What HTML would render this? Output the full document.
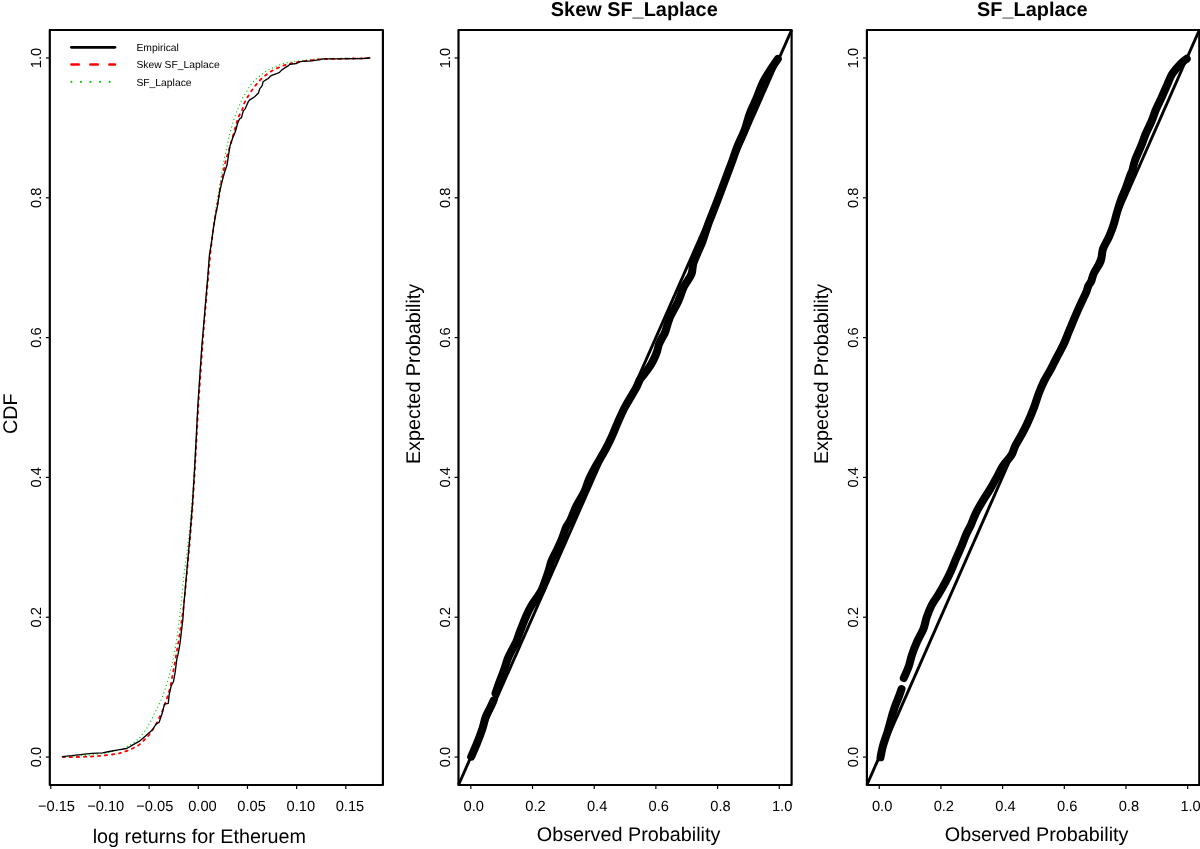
<!DOCTYPE html><html><head><meta charset="utf-8"><style>html,body{margin:0;padding:0;background:#fff;overflow:hidden}svg{display:block;will-change:transform}text{text-rendering:geometricPrecision;font-family:"Liberation Sans",sans-serif;fill:#000}</style></head><body>
<svg width="1200" height="849" viewBox="0 0 1200 849">
<rect width="1200" height="849" fill="#fff"/>
<rect x="49.80" y="30.00" width="333.10" height="755.00" fill="none" stroke="#000" stroke-width="2.2" stroke-linejoin="round"/>
<rect x="458.50" y="30.00" width="333.10" height="755.00" fill="none" stroke="#000" stroke-width="2.2" stroke-linejoin="round"/>
<rect x="866.90" y="30.00" width="332.40" height="755.00" fill="none" stroke="#000" stroke-width="2.2" stroke-linejoin="round"/>
<line x1="45.90" y1="757.04" x2="49.80" y2="757.04" stroke="#000" stroke-width="1.2"/>
<text x="0" y="0" transform="translate(41.30,757.04) rotate(-90)" text-anchor="middle" font-size="14.65" >0.0</text>
<line x1="45.90" y1="617.23" x2="49.80" y2="617.23" stroke="#000" stroke-width="1.2"/>
<text x="0" y="0" transform="translate(41.30,617.23) rotate(-90)" text-anchor="middle" font-size="14.65" >0.2</text>
<line x1="45.90" y1="477.41" x2="49.80" y2="477.41" stroke="#000" stroke-width="1.2"/>
<text x="0" y="0" transform="translate(41.30,477.41) rotate(-90)" text-anchor="middle" font-size="14.65" >0.4</text>
<line x1="45.90" y1="337.60" x2="49.80" y2="337.60" stroke="#000" stroke-width="1.2"/>
<text x="0" y="0" transform="translate(41.30,337.60) rotate(-90)" text-anchor="middle" font-size="14.65" >0.6</text>
<line x1="45.90" y1="197.78" x2="49.80" y2="197.78" stroke="#000" stroke-width="1.2"/>
<text x="0" y="0" transform="translate(41.30,197.78) rotate(-90)" text-anchor="middle" font-size="14.65" >0.8</text>
<line x1="45.90" y1="57.97" x2="49.80" y2="57.97" stroke="#000" stroke-width="1.2"/>
<text x="0" y="0" transform="translate(41.30,57.97) rotate(-90)" text-anchor="middle" font-size="14.65" >1.0</text>
<line x1="454.60" y1="757.04" x2="458.50" y2="757.04" stroke="#000" stroke-width="1.2"/>
<text x="0" y="0" transform="translate(450.00,757.04) rotate(-90)" text-anchor="middle" font-size="14.65" >0.0</text>
<line x1="454.60" y1="617.23" x2="458.50" y2="617.23" stroke="#000" stroke-width="1.2"/>
<text x="0" y="0" transform="translate(450.00,617.23) rotate(-90)" text-anchor="middle" font-size="14.65" >0.2</text>
<line x1="454.60" y1="477.41" x2="458.50" y2="477.41" stroke="#000" stroke-width="1.2"/>
<text x="0" y="0" transform="translate(450.00,477.41) rotate(-90)" text-anchor="middle" font-size="14.65" >0.4</text>
<line x1="454.60" y1="337.60" x2="458.50" y2="337.60" stroke="#000" stroke-width="1.2"/>
<text x="0" y="0" transform="translate(450.00,337.60) rotate(-90)" text-anchor="middle" font-size="14.65" >0.6</text>
<line x1="454.60" y1="197.78" x2="458.50" y2="197.78" stroke="#000" stroke-width="1.2"/>
<text x="0" y="0" transform="translate(450.00,197.78) rotate(-90)" text-anchor="middle" font-size="14.65" >0.8</text>
<line x1="454.60" y1="57.97" x2="458.50" y2="57.97" stroke="#000" stroke-width="1.2"/>
<text x="0" y="0" transform="translate(450.00,57.97) rotate(-90)" text-anchor="middle" font-size="14.65" >1.0</text>
<line x1="863.00" y1="757.04" x2="866.90" y2="757.04" stroke="#000" stroke-width="1.2"/>
<text x="0" y="0" transform="translate(858.40,757.04) rotate(-90)" text-anchor="middle" font-size="14.65" >0.0</text>
<line x1="863.00" y1="617.23" x2="866.90" y2="617.23" stroke="#000" stroke-width="1.2"/>
<text x="0" y="0" transform="translate(858.40,617.23) rotate(-90)" text-anchor="middle" font-size="14.65" >0.2</text>
<line x1="863.00" y1="477.41" x2="866.90" y2="477.41" stroke="#000" stroke-width="1.2"/>
<text x="0" y="0" transform="translate(858.40,477.41) rotate(-90)" text-anchor="middle" font-size="14.65" >0.4</text>
<line x1="863.00" y1="337.60" x2="866.90" y2="337.60" stroke="#000" stroke-width="1.2"/>
<text x="0" y="0" transform="translate(858.40,337.60) rotate(-90)" text-anchor="middle" font-size="14.65" >0.6</text>
<line x1="863.00" y1="197.78" x2="866.90" y2="197.78" stroke="#000" stroke-width="1.2"/>
<text x="0" y="0" transform="translate(858.40,197.78) rotate(-90)" text-anchor="middle" font-size="14.65" >0.8</text>
<line x1="863.00" y1="57.97" x2="866.90" y2="57.97" stroke="#000" stroke-width="1.2"/>
<text x="0" y="0" transform="translate(858.40,57.97) rotate(-90)" text-anchor="middle" font-size="14.65" >1.0</text>
<line x1="50.79" y1="785.00" x2="50.79" y2="788.90" stroke="#000" stroke-width="1.2"/>
<text x="56.49" y="810.9" text-anchor="middle" font-size="14.65" >−0.15</text>
<line x1="99.96" y1="785.00" x2="99.96" y2="788.90" stroke="#000" stroke-width="1.2"/>
<text x="105.66" y="810.9" text-anchor="middle" font-size="14.65" >−0.10</text>
<line x1="149.13" y1="785.00" x2="149.13" y2="788.90" stroke="#000" stroke-width="1.2"/>
<text x="154.83" y="810.9" text-anchor="middle" font-size="14.65" >−0.05</text>
<line x1="198.30" y1="785.00" x2="198.30" y2="788.90" stroke="#000" stroke-width="1.2"/>
<text x="202.45" y="810.9" text-anchor="middle" font-size="14.65" >0.00</text>
<line x1="247.47" y1="785.00" x2="247.47" y2="788.90" stroke="#000" stroke-width="1.2"/>
<text x="251.62" y="810.9" text-anchor="middle" font-size="14.65" >0.05</text>
<line x1="296.64" y1="785.00" x2="296.64" y2="788.90" stroke="#000" stroke-width="1.2"/>
<text x="300.79" y="810.9" text-anchor="middle" font-size="14.65" >0.10</text>
<line x1="345.81" y1="785.00" x2="345.81" y2="788.90" stroke="#000" stroke-width="1.2"/>
<text x="349.96" y="810.9" text-anchor="middle" font-size="14.65" >0.15</text>
<line x1="470.84" y1="785.00" x2="470.84" y2="788.90" stroke="#000" stroke-width="1.2"/>
<text x="473.74" y="810.9" text-anchor="middle" font-size="14.65" >0.0</text>
<line x1="532.52" y1="785.00" x2="532.52" y2="788.90" stroke="#000" stroke-width="1.2"/>
<text x="535.42" y="810.9" text-anchor="middle" font-size="14.65" >0.2</text>
<line x1="594.21" y1="785.00" x2="594.21" y2="788.90" stroke="#000" stroke-width="1.2"/>
<text x="597.11" y="810.9" text-anchor="middle" font-size="14.65" >0.4</text>
<line x1="655.89" y1="785.00" x2="655.89" y2="788.90" stroke="#000" stroke-width="1.2"/>
<text x="658.79" y="810.9" text-anchor="middle" font-size="14.65" >0.6</text>
<line x1="717.58" y1="785.00" x2="717.58" y2="788.90" stroke="#000" stroke-width="1.2"/>
<text x="720.48" y="810.9" text-anchor="middle" font-size="14.65" >0.8</text>
<line x1="779.26" y1="785.00" x2="779.26" y2="788.90" stroke="#000" stroke-width="1.2"/>
<text x="782.16" y="810.9" text-anchor="middle" font-size="14.65" >1.0</text>
<line x1="879.24" y1="785.00" x2="879.24" y2="788.90" stroke="#000" stroke-width="1.2"/>
<text x="882.14" y="810.9" text-anchor="middle" font-size="14.65" >0.0</text>
<line x1="940.92" y1="785.00" x2="940.92" y2="788.90" stroke="#000" stroke-width="1.2"/>
<text x="943.82" y="810.9" text-anchor="middle" font-size="14.65" >0.2</text>
<line x1="1002.61" y1="785.00" x2="1002.61" y2="788.90" stroke="#000" stroke-width="1.2"/>
<text x="1005.51" y="810.9" text-anchor="middle" font-size="14.65" >0.4</text>
<line x1="1064.29" y1="785.00" x2="1064.29" y2="788.90" stroke="#000" stroke-width="1.2"/>
<text x="1067.19" y="810.9" text-anchor="middle" font-size="14.65" >0.6</text>
<line x1="1125.98" y1="785.00" x2="1125.98" y2="788.90" stroke="#000" stroke-width="1.2"/>
<text x="1128.88" y="810.9" text-anchor="middle" font-size="14.65" >0.8</text>
<line x1="1187.66" y1="785.00" x2="1187.66" y2="788.90" stroke="#000" stroke-width="1.2"/>
<text x="1190.56" y="810.9" text-anchor="middle" font-size="14.65" >1.0</text>
<text x="92.7" y="842.6" font-size="19.8" >log returns for Etheruem</text>
<text x="536.75" y="840.7" font-size="19.8" >Observed Probability</text>
<text x="0" y="0" transform="translate(419.70,464.10) rotate(-90)" font-size="19.8" >Expected Probability</text>
<text x="944.80" y="840.7" font-size="19.8" >Observed Probability</text>
<text x="0" y="0" transform="translate(827.80,464.10) rotate(-90)" font-size="19.8" >Expected Probability</text>
<text x="0" y="0" transform="translate(17.0,434.0) rotate(-90)" font-size="19.8" >CDF</text>
<text x="550.8" y="15.6" font-size="19.9" font-weight="bold" >Skew SF_Laplace</text>
<text x="977.1" y="15.6" font-size="19.9" font-weight="bold" >SF_Laplace</text>
<line x1="71.47" y1="47.35" x2="114.9" y2="47.35" stroke="#000" stroke-width="2.8" stroke-linecap="round"/>
<line x1="71.47" y1="64.48" x2="114.9" y2="64.48" stroke="#f00" stroke-width="2.7" stroke-linecap="round" stroke-dasharray="7.2 11.8"/>
<line x1="71.37" y1="81.83" x2="110.5" y2="81.83" stroke="#00cd00" stroke-width="2.2" stroke-linecap="round" stroke-dasharray="0.01 9.56"/>
<text x="136.4" y="50.8" font-size="10.35" >Empirical</text>
<text x="136.4" y="68.4" font-size="10.35" >Skew SF_Laplace</text>
<text x="136.4" y="85.85" font-size="10.35" >SF_Laplace</text>
<path d="M62.10,756.70 C65.08,756.55 73.55,756.28 80.00,755.80 C86.45,755.32 94.13,754.83 100.80,753.80 C107.47,752.77 115.55,750.85 120.00,749.60 C124.45,748.35 125.00,747.62 127.50,746.30 C130.00,744.98 132.78,743.38 135.00,741.70 C137.22,740.02 138.70,738.65 140.80,736.20 C142.90,733.75 145.43,730.57 147.60,727.00 C149.77,723.43 151.75,718.87 153.80,714.80 C155.85,710.73 158.00,706.93 159.90,702.60 C161.80,698.27 163.55,693.65 165.20,688.80 C166.85,683.95 168.52,678.33 169.80,673.50 C171.08,668.67 171.88,664.63 172.90,659.80 C173.92,654.97 174.97,650.08 175.90,644.50 C176.83,638.92 177.60,633.42 178.50,626.30 C179.40,619.18 180.37,610.58 181.30,601.80 C182.23,593.02 183.00,583.02 184.10,573.60 C185.20,564.18 186.80,554.73 187.90,545.30 C189.00,535.87 189.77,527.98 190.70,517.00 C191.63,506.02 192.65,491.90 193.50,479.40 C194.35,466.90 195.08,454.40 195.80,442.00 C196.52,429.60 197.13,416.00 197.80,405.00 C198.47,394.00 199.13,385.50 199.80,376.00 C200.47,366.50 201.10,357.33 201.80,348.00 C202.50,338.67 203.38,327.67 204.00,320.00 C204.62,312.33 204.92,309.00 205.50,302.00 C206.08,295.00 206.83,285.67 207.50,278.00 C208.17,270.33 208.75,263.00 209.50,256.00 C210.25,249.00 211.13,242.57 212.00,236.00 C212.87,229.43 213.95,221.80 214.70,216.60 C215.45,211.40 215.82,209.12 216.50,204.80 C217.18,200.48 218.02,195.42 218.80,190.70 C219.58,185.98 220.32,181.62 221.20,176.50 C222.08,171.38 223.12,165.10 224.10,160.00 C225.08,154.90 226.12,150.40 227.10,145.90 C228.08,141.40 229.08,136.73 230.00,133.00 C230.92,129.27 231.57,126.87 232.60,123.50 C233.63,120.13 235.05,115.83 236.20,112.80 C237.35,109.77 238.47,107.72 239.50,105.30 C240.53,102.88 241.23,100.57 242.40,98.30 C243.57,96.03 245.20,93.82 246.50,91.70 C247.80,89.58 248.77,87.58 250.20,85.60 C251.63,83.62 253.25,81.60 255.10,79.80 C256.95,78.00 259.23,76.38 261.30,74.80 C263.37,73.22 265.30,71.60 267.50,70.30 C269.70,69.00 272.17,68.03 274.50,67.00 C276.83,65.97 279.17,64.85 281.50,64.10 C283.83,63.35 286.08,62.98 288.50,62.50 C290.92,62.02 292.83,61.65 296.00,61.20 C299.17,60.75 303.63,60.21 307.50,59.80 C311.37,59.39 314.07,59.00 319.20,58.75 C324.33,58.50 329.77,58.44 338.30,58.30 C346.83,58.16 365.05,57.97 370.40,57.90" fill="none" stroke="#00cd00" stroke-width="1.3" stroke-linecap="round" stroke-dasharray="0.01 3.9"/>
<path d="M62.90,757.10 C64.37,757.10 67.73,757.17 71.70,757.10 C75.67,757.03 81.70,756.93 86.70,756.70 C91.70,756.47 96.70,756.18 101.70,755.70 C106.70,755.22 112.95,754.45 116.70,753.80 C120.45,753.15 121.70,752.63 124.20,751.80 C126.70,750.97 129.35,749.87 131.70,748.80 C134.05,747.73 136.22,746.87 138.30,745.40 C140.38,743.93 142.38,741.78 144.20,740.00 C146.02,738.22 147.35,737.12 149.20,734.70 C151.05,732.28 153.27,729.07 155.30,725.50 C157.33,721.93 159.62,717.38 161.40,713.30 C163.18,709.22 164.60,705.08 166.00,701.00 C167.40,696.92 168.65,693.38 169.80,688.80 C170.95,684.22 171.88,678.85 172.90,673.50 C173.92,668.15 174.88,662.57 175.90,656.70 C176.92,650.83 178.10,643.90 179.00,638.30 C179.90,632.70 180.45,629.18 181.30,623.10 C182.15,617.02 183.15,610.37 184.10,601.80 C185.05,593.23 186.05,581.73 187.00,571.70 C187.95,561.67 188.93,551.65 189.80,541.60 C190.67,531.55 191.42,522.40 192.20,511.40 C192.98,500.40 193.80,487.17 194.50,475.60 C195.20,464.03 195.75,453.77 196.40,442.00 C197.05,430.23 197.73,416.00 198.40,405.00 C199.07,394.00 199.75,385.50 200.40,376.00 C201.05,366.50 201.62,357.33 202.30,348.00 C202.98,338.67 203.85,328.00 204.50,320.00 C205.15,312.00 205.57,307.33 206.20,300.00 C206.83,292.67 207.57,284.00 208.30,276.00 C209.03,268.00 209.78,259.67 210.60,252.00 C211.42,244.33 212.30,236.67 213.20,230.00 C214.10,223.33 214.97,218.17 216.00,212.00 C217.03,205.83 218.35,198.83 219.40,193.00 C220.45,187.17 221.20,182.50 222.30,177.00 C223.40,171.50 224.67,165.32 226.00,160.00 C227.33,154.68 228.67,150.77 230.30,145.10 C231.93,139.43 234.48,130.57 235.80,126.00 C237.12,121.43 237.17,120.32 238.20,117.70 C239.23,115.08 240.97,112.77 242.00,110.30 C243.03,107.83 243.38,105.23 244.40,102.90 C245.42,100.57 246.78,98.50 248.10,96.30 C249.42,94.10 250.85,91.77 252.30,89.70 C253.75,87.63 255.15,85.83 256.80,83.90 C258.45,81.97 260.28,79.88 262.20,78.10 C264.12,76.32 266.25,74.63 268.30,73.20 C270.35,71.77 272.23,70.67 274.50,69.50 C276.77,68.33 279.45,67.16 281.90,66.20 C284.35,65.24 286.73,64.40 289.20,63.75 C291.67,63.10 294.20,62.74 296.70,62.30 C299.20,61.86 301.70,61.45 304.20,61.10 C306.70,60.75 309.20,60.50 311.70,60.20 C314.20,59.90 316.70,59.50 319.20,59.30 C321.70,59.10 322.82,59.09 326.70,59.00 C330.58,58.91 336.12,58.88 342.50,58.75 C348.88,58.62 360.35,58.34 365.00,58.20 C369.65,58.06 369.50,57.95 370.40,57.90" fill="none" stroke="#f00" stroke-width="1.8" stroke-linecap="round" stroke-dasharray="2.3 4.7"/>
<polyline points="62.1,756.7 71.7,755.7 82.5,754.3 91.7,753.3 102.5,752.9 109.2,751.5 118.3,749.8 126.7,748.5 133.3,744.6 140.0,740.8 146.1,735.4 152.2,730.1 156.1,724.0 159.1,722.4 162.2,713.3 164.5,704.1 168.3,703.3 169.1,694.9 171.3,685.7 173.6,681.2 175.2,672.0 176.7,659.8 178.2,653.6 180.1,642.9 181.3,632.2 182.8,620.0 184.1,601.8 186.6,573.6 188.8,549.1 190.7,526.5 192.6,502.0 194.2,476.0 196.0,442.4 197.9,404.7 199.8,376.5 201.7,348.2 204.1,320.0 205.6,302.0 207.7,277.9 209.4,255.3 211.3,244.0 213.4,228.4 215.5,215.7 217.7,204.8 219.4,193.0 221.8,182.4 224.7,171.8 227.1,164.8 228.3,156.5 230.0,145.9 232.4,138.8 235.3,131.8 237.8,122.7 239.5,119.0 241.5,117.7 243.2,111.1 245.3,108.6 248.5,101.2 250.2,99.6 254.7,96.7 258.4,93.0 259.7,88.9 262.2,85.6 263.0,81.8 265.4,80.2 268.3,78.5 270.4,76.1 272.9,74.8 275.8,74.0 279.5,72.4 281.9,69.9 284.4,68.2 287.7,66.2 289.7,64.4 296.5,63.5 300.0,61.7 311.7,60.8 320.0,59.6 323.3,58.8 338.3,58.9 363.3,58.5 370.4,57.9" fill="none" stroke="#000" stroke-width="1.35" stroke-linejoin="round"/>
<line x1="458.50" y1="785.00" x2="791.60" y2="30.00" stroke="#000" stroke-width="2.9"/>
<line x1="866.90" y1="785.00" x2="1199.30" y2="30.00" stroke="#000" stroke-width="2.9"/>
<path d="M471.20,756.60 C472.17,754.37 475.12,747.90 477.00,743.20 C478.88,738.50 481.03,732.83 482.50,728.40 C483.97,723.97 484.45,720.17 485.80,716.60 C487.15,713.03 489.30,709.70 490.60,707.00 C491.90,704.30 493.10,701.50 493.60,700.40" fill="none" stroke="#000" stroke-width="8" stroke-linecap="round" stroke-linejoin="round"/>
<path d="M495.50,693.40 C496.03,691.87 497.25,688.18 498.70,684.20 C500.15,680.22 502.62,673.92 504.20,669.50 C505.78,665.08 506.40,661.88 508.20,657.70 C510.00,653.52 513.58,647.22 515.00,644.40 C516.42,641.58 515.80,643.12 516.70,640.80 C517.60,638.48 518.80,634.67 520.40,630.50 C522.00,626.33 524.45,619.97 526.30,615.80 C528.15,611.63 529.28,609.18 531.50,605.50 C533.72,601.82 537.65,596.90 539.60,593.70 C541.55,590.50 541.73,589.98 543.20,586.30 C544.67,582.62 547.03,575.77 548.40,571.60 C549.77,567.43 549.93,564.98 551.40,561.30 C552.87,557.62 555.37,553.43 557.20,549.50 C559.03,545.57 560.92,541.38 562.40,537.70 C563.88,534.02 564.82,530.22 566.10,527.40 C567.38,524.58 568.38,524.35 570.10,520.80 C571.82,517.25 574.00,511.00 576.40,506.10 C578.80,501.20 582.42,495.82 584.50,491.40 C586.58,486.98 587.18,483.53 588.90,479.60 C590.62,475.67 592.95,471.25 594.80,467.80 C596.65,464.35 598.15,462.10 600.00,458.90 C601.85,455.70 603.95,452.28 605.90,448.60 C607.85,444.92 609.80,440.97 611.70,436.80 C613.60,432.63 615.08,428.57 617.30,423.60 C619.52,418.63 621.88,412.90 625.00,407.00 C628.12,401.10 633.50,392.78 636.00,388.20 C638.50,383.62 638.42,382.13 640.00,379.50 C641.58,376.87 643.75,374.77 645.50,372.40 C647.25,370.03 649.03,367.65 650.50,365.30 C651.97,362.95 653.20,360.65 654.30,358.30 C655.40,355.95 656.32,353.57 657.10,351.20 C657.88,348.83 658.10,346.45 659.00,344.10 C659.90,341.75 661.50,339.03 662.50,337.10 C663.50,335.17 663.75,335.82 665.00,332.50 C666.25,329.18 667.83,322.30 670.00,317.20 C672.17,312.10 675.67,307.00 678.00,301.90 C680.33,296.80 681.77,291.20 684.00,286.60 C686.23,282.00 689.85,278.13 691.40,274.30 C692.95,270.47 692.15,267.43 693.30,263.60 C694.45,259.77 696.72,255.13 698.30,251.30 C699.88,247.47 701.22,244.93 702.80,240.60 C704.38,236.27 706.27,229.65 707.80,225.30 C709.33,220.95 710.38,218.65 712.00,214.50 C713.62,210.35 715.33,206.10 717.50,200.40 C719.67,194.70 722.50,186.98 725.00,180.30 C727.50,173.62 730.42,165.98 732.50,160.30 C734.58,154.62 735.48,151.22 737.50,146.20 C739.52,141.18 742.58,135.53 744.60,130.20 C746.62,124.87 747.60,119.55 749.60,114.20 C751.60,108.85 754.35,103.45 756.60,98.10 C758.85,92.75 760.58,87.12 763.10,82.10 C765.62,77.08 769.25,71.85 771.70,68.00 C774.15,64.15 776.78,60.50 777.80,59.00" fill="none" stroke="#000" stroke-width="8" stroke-linecap="round" stroke-linejoin="round"/>
<path d="M880.50,757.30 C880.90,755.43 881.70,750.42 882.90,746.10 C884.10,741.78 886.22,736.32 887.70,731.40 C889.18,726.48 890.58,720.78 891.80,716.60 C893.02,712.42 893.78,709.73 895.00,706.30 C896.22,702.87 898.02,698.88 899.10,696.00 C900.18,693.12 901.10,690.17 901.50,689.00" fill="none" stroke="#000" stroke-width="8" stroke-linecap="round" stroke-linejoin="round"/>
<path d="M903.80,678.00 C904.62,676.08 907.33,670.38 908.70,666.50 C910.07,662.62 910.62,658.82 912.00,654.70 C913.38,650.58 915.10,646.08 917.00,641.80 C918.90,637.52 921.78,633.08 923.40,629.00 C925.02,624.92 925.35,621.22 926.70,617.30 C928.05,613.38 929.47,609.43 931.50,605.50 C933.53,601.57 936.68,597.38 938.90,593.70 C941.12,590.02 942.83,587.08 944.80,583.40 C946.77,579.72 948.80,575.78 950.70,571.60 C952.60,567.42 954.42,562.48 956.20,558.30 C957.98,554.12 959.75,550.43 961.40,546.50 C963.05,542.57 964.47,538.40 966.10,534.70 C967.73,531.00 969.60,527.85 971.20,524.30 C972.80,520.75 973.80,517.27 975.70,513.40 C977.60,509.53 980.17,505.18 982.60,501.10 C985.03,497.02 987.87,492.98 990.30,488.90 C992.73,484.82 995.10,480.43 997.20,476.60 C999.30,472.77 1000.53,469.47 1002.90,465.90 C1005.27,462.33 1009.35,458.52 1011.40,455.20 C1013.45,451.88 1013.55,449.33 1015.20,446.00 C1016.85,442.67 1019.25,439.03 1021.30,435.20 C1023.35,431.37 1025.38,427.62 1027.50,423.00 C1029.62,418.38 1032.12,412.43 1034.00,407.50 C1035.88,402.57 1037.12,397.80 1038.80,393.40 C1040.48,389.00 1042.07,385.18 1044.10,381.10 C1046.13,377.02 1048.82,372.98 1051.00,368.90 C1053.18,364.82 1055.08,360.68 1057.20,356.60 C1059.32,352.52 1061.78,348.48 1063.70,344.40 C1065.62,340.32 1066.92,336.45 1068.70,332.10 C1070.48,327.75 1072.57,322.63 1074.40,318.30 C1076.23,313.97 1077.73,310.43 1079.70,306.10 C1081.67,301.77 1084.75,295.70 1086.20,292.30 C1087.65,288.90 1087.57,287.50 1088.40,285.70 C1089.23,283.90 1090.30,283.55 1091.20,281.50 C1092.10,279.45 1092.22,276.80 1093.80,273.40 C1095.38,270.00 1099.17,265.18 1100.70,261.10 C1102.23,257.02 1101.60,252.98 1103.00,248.90 C1104.40,244.82 1107.32,240.68 1109.10,236.60 C1110.88,232.52 1112.37,228.48 1113.70,224.40 C1115.03,220.32 1115.88,216.20 1117.10,212.10 C1118.32,208.00 1119.52,203.88 1121.00,199.80 C1122.48,195.72 1124.47,191.68 1126.00,187.60 C1127.53,183.52 1129.15,178.12 1130.20,175.30 C1131.25,172.48 1131.50,173.17 1132.30,170.70 C1133.10,168.23 1133.53,164.60 1135.00,160.50 C1136.47,156.40 1139.32,150.53 1141.10,146.10 C1142.88,141.67 1143.98,137.98 1145.70,133.90 C1147.42,129.82 1149.68,125.68 1151.40,121.60 C1153.12,117.52 1154.27,113.48 1156.00,109.40 C1157.73,105.32 1159.93,101.20 1161.80,97.10 C1163.67,93.00 1165.48,88.63 1167.20,84.80 C1168.92,80.97 1169.80,77.67 1172.10,74.10 C1174.40,70.53 1178.57,65.95 1181.00,63.40 C1183.43,60.85 1185.75,59.57 1186.70,58.80" fill="none" stroke="#000" stroke-width="8" stroke-linecap="round" stroke-linejoin="round"/>
</svg></body></html>
